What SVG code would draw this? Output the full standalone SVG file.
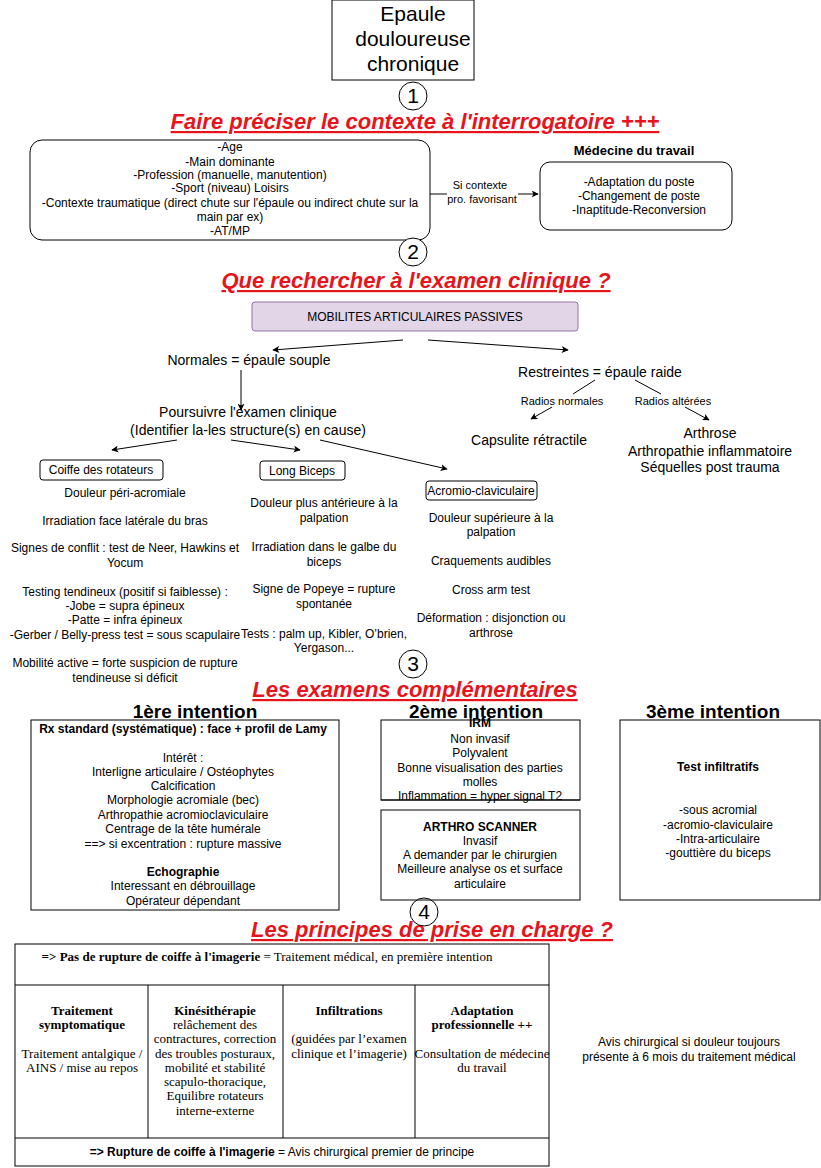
<svg xmlns="http://www.w3.org/2000/svg" width="821" height="1168" viewBox="0 0 821 1168">
<defs>
<style>
text{font-family:"Liberation Sans",Arial,sans-serif;fill:#000;text-anchor:middle}
.s11{font-size:12px}
.s10{font-size:11px}
.s12{font-size:13px}
.s13{font-size:14px}
.b{font-weight:bold}
.red{font-size:22px;font-weight:bold;font-style:italic;fill:#e8141b;text-decoration:underline}
.h{font-size:19px;font-weight:bold}
.tm{font-family:"Liberation Serif","Times New Roman",serif;font-size:13px}
.box{fill:#fff;stroke:#000;stroke-width:1}
.ln{fill:none;stroke:#000;stroke-width:1}
.num{font-size:21px}
</style>
<marker id="ar" viewBox="0 0 10 10" refX="9" refY="5" markerWidth="7" markerHeight="7" orient="auto" markerUnits="userSpaceOnUse">
<path d="M0,0 L10,5 L0,10 L2.5,5 z" fill="#000"/>
</marker>
</defs>
<rect width="821" height="1168" fill="#fff"/>

<g id="connectors">
<line class="ln" x1="430" y1="194" x2="538" y2="194" marker-end="url(#ar)"/>
<rect x="447" y="178" width="71" height="28" fill="#fff"/>
<line class="ln" x1="403" y1="340" x2="273" y2="350" marker-end="url(#ar)"/>
<line class="ln" x1="428" y1="340" x2="568" y2="350" marker-end="url(#ar)"/>
<line class="ln" x1="241" y1="370" x2="241" y2="410" marker-end="url(#ar)"/>
<line class="ln" x1="595" y1="380" x2="573" y2="394"/>
<line class="ln" x1="552" y1="407" x2="531" y2="419" marker-end="url(#ar)"/>
<line class="ln" x1="635" y1="380" x2="661" y2="394"/>
<line class="ln" x1="685" y1="407" x2="709" y2="420" marker-end="url(#ar)"/>
<line class="ln" x1="177" y1="440" x2="112" y2="450" marker-end="url(#ar)"/>
<line class="ln" x1="231" y1="440" x2="300" y2="450" marker-end="url(#ar)"/>
<line class="ln" x1="320" y1="440" x2="447" y2="469" marker-end="url(#ar)"/>
</g>

<g id="title">
<rect class="box" x="332" y="0" width="142" height="80"/>
<text class="num" x="413" y="21">Epaule</text>
<text class="num" x="413" y="46">douloureuse</text>
<text class="num" x="413" y="71">chronique</text>
</g>

<g id="step1">
<circle class="box" cx="413" cy="96" r="14"/>
<text class="num" x="413" y="103">1</text>
<text class="red" x="415" y="129">Faire préciser le contexte à l'interrogatoire +++</text>
</g>

<g id="interrogatoire">
<rect class="box" x="30" y="140" width="400" height="100" rx="12"/>
<text class="s11" x="230" y="151">-Age</text>
<text class="s11" x="230" y="166">-Main dominante</text>
<text class="s11" x="230" y="179">-Profession (manuelle, manutention)</text>
<text class="s11" x="230" y="192">-Sport (niveau) Loisirs</text>
<text class="s11" x="230" y="207">-Contexte traumatique (direct chute sur l'épaule ou indirect chute sur la</text>
<text class="s11" x="230" y="221">main par ex)</text>
<text class="s11" x="230" y="235">-AT/MP</text>
</g>

<g id="label-contexte">
<text class="s10" x="480" y="189">Si contexte</text>
<text class="s10" x="482" y="203">pro. favorisant</text>
</g>

<g id="medecine">
<text class="s12 b" x="634" y="155">Médecine du travail</text>
<rect class="box" x="540" y="162" width="192" height="68" rx="10"/>
<text class="s11" x="639" y="186">-Adaptation du poste</text>
<text class="s11" x="639" y="200">-Changement de poste</text>
<text class="s11" x="639" y="214">-Inaptitude-Reconversion</text>
</g>

<g id="step2">
<circle class="box" cx="413" cy="252" r="14"/>
<text class="num" x="413" y="259">2</text>
<text class="red" x="416" y="288">Que rechercher à l'examen clinique ?</text>
</g>

<g id="mobilites">
<rect x="252" y="302" width="326" height="29" rx="3" fill="#e1d5e7" stroke="#9673a6"/>
<text class="s11" x="415" y="321">MOBILITES ARTICULAIRES PASSIVES</text>
</g>

<g id="normales"><text class="s13" x="249" y="365">Normales = épaule souple</text></g>
<g id="restreintes"><text class="s13" x="600" y="377">Restreintes = épaule raide</text></g>
<g id="radios-normales"><text class="s10" x="562" y="405">Radios normales</text></g>
<g id="radios-alterees"><text class="s10" x="673" y="405">Radios altérées</text></g>
<g id="capsulite"><text class="s13" x="529" y="445">Capsulite rétractile</text></g>
<g id="arthrose">
<text class="s13" x="710" y="438">Arthrose</text>
<text class="s13" x="710" y="456">Arthropathie inflammatoire</text>
<text class="s13" x="710" y="472">Séquelles post trauma</text>
</g>

<g id="poursuivre">
<text class="s13" x="248" y="417">Poursuivre l'examen clinique</text>
<text class="s13" x="248" y="435">(Identifier la-les structure(s) en cause)</text>
</g>

<g id="coiffe">
<rect class="box" x="40" y="460" width="123" height="20" rx="3"/>
<text class="s11" x="101" y="474">Coiffe des rotateurs</text>
<text class="s11" x="125" y="497">Douleur péri-acromiale</text>
<text class="s11" x="125" y="525">Irradiation face latérale du bras</text>
<text class="s11" x="125" y="552">Signes de conflit : test de Neer, Hawkins et</text>
<text class="s11" x="125" y="567">Yocum</text>
<text class="s11" x="125" y="596">Testing tendineux (positif si faiblesse) :</text>
<text class="s11" x="125" y="610">-Jobe = supra épineux</text>
<text class="s11" x="125" y="624">-Patte = infra épineux</text>
<text class="s11" x="125" y="639">-Gerber / Belly-press test = sous scapulaire</text>
<text class="s11" x="125" y="667">Mobilité active = forte suspicion de rupture</text>
<text class="s11" x="125" y="682">tendineuse si déficit</text>
</g>

<g id="long-biceps">
<rect class="box" x="260" y="461" width="85" height="19" rx="3"/>
<text class="s11" x="302" y="475">Long Biceps</text>
<text class="s11" x="324" y="507">Douleur plus antérieure à la</text>
<text class="s11" x="324" y="522">palpation</text>
<text class="s11" x="324" y="551">Irradiation dans le galbe du</text>
<text class="s11" x="324" y="566">biceps</text>
<text class="s11" x="324" y="593">Signe de Popeye = rupture</text>
<text class="s11" x="324" y="608">spontanée</text>
<text class="s11" x="324" y="638">Tests : palm up, Kibler, O’brien,</text>
<text class="s11" x="324" y="652">Yergason...</text>
</g>

<g id="acromio">
<rect class="box" x="426" y="481" width="111" height="19" rx="3"/>
<text class="s11" x="481" y="495" font-size="11.5px">Acromio-claviculaire</text>
<text class="s11" x="491" y="522">Douleur supérieure à la</text>
<text class="s11" x="491" y="536">palpation</text>
<text class="s11" x="491" y="565">Craquements audibles</text>
<text class="s11" x="491" y="594">Cross arm test</text>
<text class="s11" x="491" y="622">Déformation : disjonction ou</text>
<text class="s11" x="491" y="637">arthrose</text>
</g>

<g id="step3">
<circle class="box" cx="413" cy="664" r="14"/>
<text class="num" x="413" y="671">3</text>
<text class="red" x="415" y="697">Les examens complémentaires</text>
</g>

<g id="intention1">
<text class="h" x="195" y="718">1ère intention</text>
<rect class="box" x="31" y="720" width="308" height="190" stroke="#333"/>
<text class="s11 b" x="183" y="733">Rx standard (systématique) : face + profil de Lamy</text>
<text class="s11" x="183" y="762">Intérêt :</text>
<text class="s11" x="183" y="776">Interligne articulaire / Ostéophytes</text>
<text class="s11" x="183" y="790">Calcification</text>
<text class="s11" x="183" y="804">Morphologie acromiale (bec)</text>
<text class="s11" x="183" y="819">Arthropathie acromioclaviculaire</text>
<text class="s11" x="183" y="833">Centrage de la tête humérale</text>
<text class="s11" x="183" y="848">==&gt; si excentration : rupture massive</text>
<text class="s11 b" x="183" y="876">Echographie</text>
<text class="s11" x="183" y="890">Interessant en débrouillage</text>
<text class="s11" x="183" y="905">Opérateur dépendant</text>
</g>

<g id="intention2">
<rect class="box" x="381" y="720" width="199" height="80"/>
<text class="s11 b" x="480" y="727">IRM</text>
<text class="h" x="476" y="718">2ème intention</text>
<text class="s11" x="480" y="743">Non invasif</text>
<text class="s11" x="480" y="757">Polyvalent</text>
<text class="s11" x="480" y="772">Bonne visualisation des parties</text>
<text class="s11" x="480" y="786">molles</text>
<text class="s11" x="480" y="800">Inflammation = hyper signal T2</text>
<line class="ln" x1="381" y1="800" x2="580" y2="800"/>
</g>

<g id="arthroscanner">
<rect class="box" x="381" y="810" width="199" height="90"/>
<text class="s11 b" x="480" y="831">ARTHRO SCANNER</text>
<text class="s11" x="480" y="845">Invasif</text>
<text class="s11" x="480" y="859">A demander par le chirurgien</text>
<text class="s11" x="480" y="873">Meilleure analyse os et surface</text>
<text class="s11" x="480" y="888">articulaire</text>
</g>

<g id="intention3">
<text class="h" x="713" y="718">3ème intention</text>
<rect class="box" x="620" y="720" width="200" height="180"/>
<text class="s11 b" x="718" y="771">Test infiltratifs</text>
<text class="s11" x="718" y="814">-sous acromial</text>
<text class="s11" x="718" y="829">-acromio-claviculaire</text>
<text class="s11" x="718" y="843">-Intra-articulaire</text>
<text class="s11" x="718" y="857">-gouttière du biceps</text>
</g>

<g id="step4">
<text class="red" x="432" y="937">Les principes de prise en charge  ?</text>
<circle cx="424" cy="912" r="14" fill="none" stroke="#000"/>
<text class="num" x="424" y="919">4</text>
</g>

<g id="table">
<rect class="box" x="15" y="944" width="534" height="222"/>
<line class="ln" x1="15" y1="985" x2="549" y2="985"/>
<line class="ln" x1="15" y1="1138" x2="549" y2="1138"/>
<line class="ln" x1="148" y1="985" x2="148" y2="1138"/>
<line class="ln" x1="283" y1="985" x2="283" y2="1138"/>
<line class="ln" x1="415" y1="985" x2="415" y2="1138"/>
<text class="tm" x="267" y="961"><tspan font-weight="bold">=&gt; Pas de rupture de coiffe à l'imagerie </tspan> = Traitement médical, en première intention</text>
<text class="tm b" x="82" y="1015">Traitement</text>
<text class="tm b" x="82" y="1029">symptomatique</text>
<text class="tm" x="82" y="1058">Traitement antalgique /</text>
<text class="tm" x="82" y="1072">AINS / mise au repos</text>
<text class="tm b" x="215" y="1015">Kinésithérapie</text>
<text class="tm" x="215" y="1029">relâchement des</text>
<text class="tm" x="215" y="1043">contractures, correction</text>
<text class="tm" x="215" y="1058">des troubles posturaux,</text>
<text class="tm" x="215" y="1072">mobilité et stabilité</text>
<text class="tm" x="215" y="1086">scapulo-thoracique,</text>
<text class="tm" x="215" y="1100">Equilibre rotateurs</text>
<text class="tm" x="215" y="1115">interne-externe</text>
<text class="tm b" x="349" y="1015">Infiltrations</text>
<text class="tm" x="349" y="1043">(guidées par l’examen</text>
<text class="tm" x="349" y="1058">clinique et l’imagerie)</text>
<text class="tm b" x="482" y="1015">Adaptation</text>
<text class="tm b" x="482" y="1029">professionnelle ++</text>
<text class="tm" x="482" y="1058">Consultation de médecine</text>
<text class="tm" x="482" y="1072">du travail</text>
<text class="s11" x="282" y="1156"><tspan font-weight="bold">=&gt; Rupture de coiffe à l'imagerie</tspan> = Avis chirurgical premier de principe</text>
</g>

<g id="avis">
<text class="s11" x="689" y="1046">Avis chirurgical si douleur toujours</text>
<text class="s11" x="689" y="1061">présente à 6 mois du traitement médical</text>
</g>
</svg>
